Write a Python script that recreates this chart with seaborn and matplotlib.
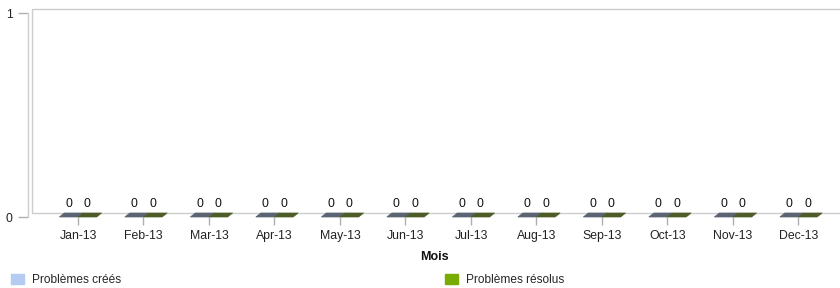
import pandas as pd
import numpy as np
import matplotlib
matplotlib.use("Agg")
import matplotlib.pyplot as plt
import matplotlib.transforms as mtransforms
from matplotlib.patches import Polygon, Patch
import seaborn as sns

months = ["Jan-13", "Feb-13", "Mar-13", "Apr-13", "May-13", "Jun-13",
          "Jul-13", "Aug-13", "Sep-13", "Oct-13", "Nov-13", "Dec-13"]
created = [0, 0, 0, 0, 0, 0, 0, 0, 0, 0, 0, 0]
resolved = [0, 0, 0, 0, 0, 0, 0, 0, 0, 0, 0, 0]
series = ["Problèmes créés", "Problèmes résolus"]

legend_colors = ["#b4ccf2", "#78ac00"]
top_colors = ["#5a6472", "#4e5c28"]

data = pd.DataFrame({
    "mois": months * 2,
    "valeur": created + resolved,
    "serie": [series[0]] * len(months) + [series[1]] * len(months),
})

sns.set_style("white")
plt.rcParams["font.family"] = ["Liberation Sans", "DejaVu Sans"]

fig = plt.figure(figsize=(8.4, 2.88), dpi=100)
ax = fig.add_axes([28 / 840, 1 - 217 / 288, 812 / 840, 204 / 288])

sns.barplot(data=data, x="mois", y="valeur", hue="serie", palette=legend_colors,
            width=0.57, ax=ax, legend=False)

ax.set_xlim(-0.763, 11.634)
ax.set_ylim(0, 1)
ax.set_yticks([0, 1])
ax.set_yticklabels(["0", "1"])
ax.set_xticks(range(len(months)))
ax.set_xticklabels(months, va="baseline")
for s in ax.spines.values():
    s.set_visible(False)
ax.tick_params(axis="both", labelsize=8.8, colors="#b0b0b0", labelcolor="#222222",
               bottom=True, left=True)
ax.tick_params(axis="y", length=7, width=1, pad=4)
ax.tick_params(axis="x", length=6, width=1, pad=10, direction="out")
ax.set_ylabel("")
ax.set_xlabel("Mois", fontsize=9, fontweight="bold", labelpad=6, color="#111111")

# 3D look: back wall and floor offset by a few pixels
back = mtransforms.offset_copy(ax.transAxes, fig=fig, x=4, y=4, units="dots")
line_kw = dict(color="#cccccc", lw=1, clip_on=False)
ax.plot([0, 0], [0, 1], transform=ax.transAxes, **line_kw)
ax.plot([0, 0, 1.01], [0, 1, 1], transform=back, **line_kw)
ax.plot([0, 1.01], [0, 0], transform=back, **line_kw)

# flat bar tops (parallelograms) and value labels
fig.canvas.draw()
inv = ax.transData.inverted()
dx, dy = inv.transform((5, 4)) - inv.transform((0, 0))
for container, col in zip(ax.containers, top_colors):
    for bar in container:
        x0 = bar.get_x()
        x1 = x0 + bar.get_width()
        h = bar.get_height()
        ax.add_patch(Polygon([(x0, h), (x1, h), (x1 + dx, h + dy), (x0 + dx, h + dy)],
                             closed=True, facecolor=col, edgecolor=col, lw=0.5,
                             clip_on=False, zorder=3))
    ax.bar_label(container, fmt="%d", padding=5, fontsize=8.8, color="#111111")

for lab, col, xpos in zip(series, legend_colors, [11 / 840, 445 / 840]):
    leg = fig.legend(handles=[Patch(facecolor=col, edgecolor=col, label=lab)],
                     loc="center left", bbox_to_anchor=(xpos, 1 - 280 / 288),
                     frameon=False, fontsize=8.6, handlelength=1.1, handleheight=1.0,
                     handletextpad=0.7, borderpad=0, borderaxespad=0)

fig.savefig("out.png", dpi=100)
